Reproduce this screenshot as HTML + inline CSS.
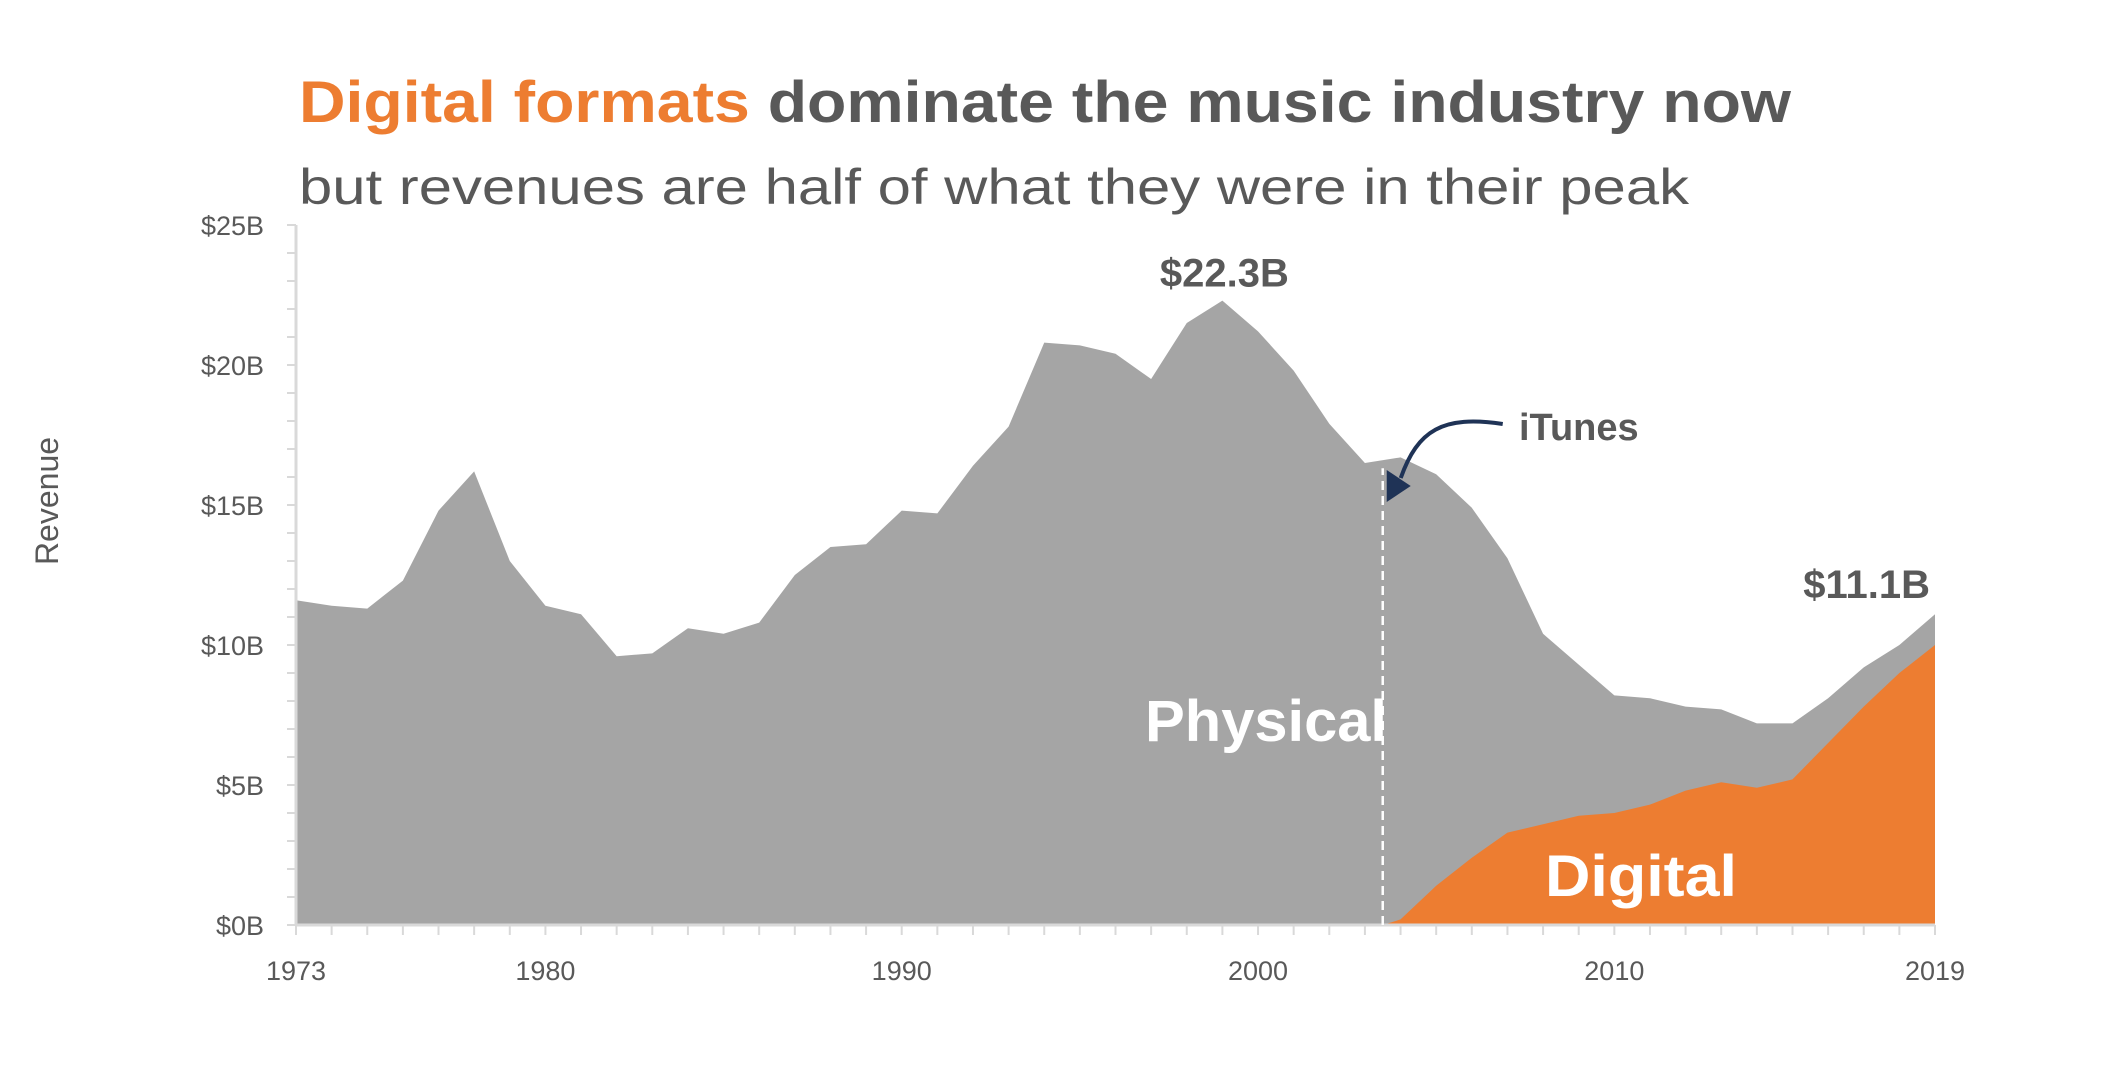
<!DOCTYPE html>
<html><head><meta charset="utf-8"><style>
html,body{margin:0;padding:0;background:#fff;}
svg{display:block;font-family:"Liberation Sans",sans-serif;}
</style></head><body>
<svg id="chart" width="2101" height="1070" viewBox="0 0 2101 1070" xmlns="http://www.w3.org/2000/svg">
<text x="299" y="122" font-size="58" font-weight="bold" fill="#595959" textLength="1492" lengthAdjust="spacingAndGlyphs"><tspan fill="#ED7D31">Digital formats</tspan> dominate the music industry now</text>
<text x="299" y="204" font-size="50" fill="#595959" textLength="1390" lengthAdjust="spacingAndGlyphs">but revenues are half of what they were in their peak</text>
<text transform="translate(58,501) rotate(-90)" text-anchor="middle" font-size="32" fill="#595959">Revenue</text>
<g id="plot"></g>
</svg>
<script>
const years=[1973,1974,1975,1976,1977,1978,1979,1980,1981,1982,1983,1984,1985,1986,1987,1988,1989,1990,1991,1992,1993,1994,1995,1996,1997,1998,1999,2000,2001,2002,2003,2004,2005,2006,2007,2008,2009,2010,2011,2012,2013,2014,2015,2016,2017,2018,2019];
const totalRevenue=[11.6,11.4,11.3,12.3,14.8,16.2,13.0,11.4,11.1,9.6,9.7,10.6,10.4,10.8,12.5,13.5,13.6,14.8,14.7,16.4,17.8,20.8,20.7,20.4,19.5,21.5,22.3,21.2,19.8,17.9,16.5,16.7,16.1,14.9,13.1,10.4,9.3,8.2,8.1,7.8,7.7,7.2,7.2,8.1,9.2,10.0,11.1];
const digitalYears=[2003.5,2004,2005,2006,2007,2008,2009,2010,2011,2012,2013,2014,2015,2016,2017,2018,2019];
const digitalRevenue=[0,0.2,1.4,2.4,3.3,3.6,3.9,4.0,4.3,4.8,5.1,4.9,5.2,6.5,7.8,9.0,10.0];
const yTicks=[0,5,10,15,20,25];
const yTickLabels=["$0B","$5B","$10B","$15B","$20B","$25B"];
const xTickLabels=[1973,1980,1990,2000,2010,2019];
const itunesYear=2003.5;
const peakValue=22.3, peakYear=1999, lastValue=11.1, lastYear=2019;

const X0=296,X1=1935,Y0=925,Y1=225;
const x=v=>X0+(v-1973)/(2019-1973)*(X1-X0);
const y=v=>Y0-(v/25)*(Y0-Y1);
const NS="http://www.w3.org/2000/svg";
const g=document.getElementById('plot');
function mk(t,a){const e=document.createElementNS(NS,t);for(const k in a)e.setAttribute(k,a[k]);g.appendChild(e);return e;}

// physical/total area
let d=`M${x(years[0])},${y(0)}`;
years.forEach((yr,i)=>{d+=` L${x(yr)},${y(totalRevenue[i])}`;});
d+=` L${x(years[years.length-1])},${y(0)} Z`;
const pa=mk('path',{d,fill:'#A5A5A5'});



// digital area
let d2=`M${x(digitalYears[0])},${y(0)}`;
digitalYears.forEach((yr,i)=>{d2+=` L${x(yr)},${y(digitalRevenue[i])}`;});
d2+=` L${x(digitalYears[digitalYears.length-1])},${y(0)} Z`;
const da=mk('path',{d:d2,fill:'#ED7D31'});



// axes
const ya=mk('line',{x1:X0,y1:Y1,x2:X0,y2:Y0,stroke:'#D9D9D9','stroke-width':3});


const xa=mk('line',{x1:X0,y1:Y0,x2:X1,y2:Y0,stroke:'#D9D9D9','stroke-width':3});


for(let v=0;v<=25;v++){
  const t=mk('line',{x1:X0-9,y1:y(v),x2:X0,y2:y(v),stroke:'#D9D9D9','stroke-width':2});
  
  
}
yTicks.forEach((v,i)=>{
  const t=mk('text',{x:X0-32,y:y(v)+10,'text-anchor':'end','font-size':27,fill:'#595959'});
  t.textContent=yTickLabels[i];
  
  
});
years.forEach(yr=>{
  const t=mk('line',{x1:x(yr),y1:Y0,x2:x(yr),y2:Y0+10,stroke:'#D9D9D9','stroke-width':2});
  
  
});
xTickLabels.forEach(yr=>{
  const t=mk('text',{x:x(yr),y:Y0+55,'text-anchor':'middle','font-size':27,fill:'#595959'});
  t.textContent=yr;
  
  
});

// itunes dashed line
const idx=years.indexOf(2003);
const topV=totalRevenue[idx]+(totalRevenue[idx+1]-totalRevenue[idx])*(itunesYear-2003);
const dl=mk('line',{x1:x(itunesYear),y1:Y0,x2:x(itunesYear),y2:y(topV)+8,stroke:'#fff','stroke-width':2.5,'stroke-dasharray':'9,6'});


const ar=mk('path',{d:`M${x(itunesYear)+120},424 C${x(itunesYear)+60},415 ${x(itunesYear)+35},430 ${x(itunesYear)+18},478`,fill:'none',stroke:'#1F3356','stroke-width':4});


const ah=mk('path',{d:`M${x(itunesYear)+4},502 L${x(itunesYear)+4},470 L${x(itunesYear)+28},486 Z`,fill:'#1F3356'});


const it=mk('text',{x:1519,y:440,'font-size':38,'font-weight':'bold',fill:'#595959'});
it.textContent='iTunes';



// annotations
const pk=mk('text',{x:x(peakYear)+2,y:y(peakValue)-14,'text-anchor':'middle','font-size':40,'font-weight':'bold',fill:'#595959'});
pk.textContent='$'+peakValue+'B';


const lv=mk('text',{x:x(lastYear)-5,y:y(lastValue)-16,'text-anchor':'end','font-size':40,'font-weight':'bold',fill:'#595959'});
lv.textContent='$'+lastValue+'B';


const ph=mk('text',{x:1145,y:741,'font-size':58,'font-weight':'bold',fill:'#fff',textLength:242,lengthAdjust:'spacingAndGlyphs'});
ph.textContent='Physical';


const dg=mk('text',{x:1545,y:896,'font-size':58,'font-weight':'bold',fill:'#fff',textLength:192,lengthAdjust:'spacingAndGlyphs'});
dg.textContent='Digital';


</script>
</body></html>
